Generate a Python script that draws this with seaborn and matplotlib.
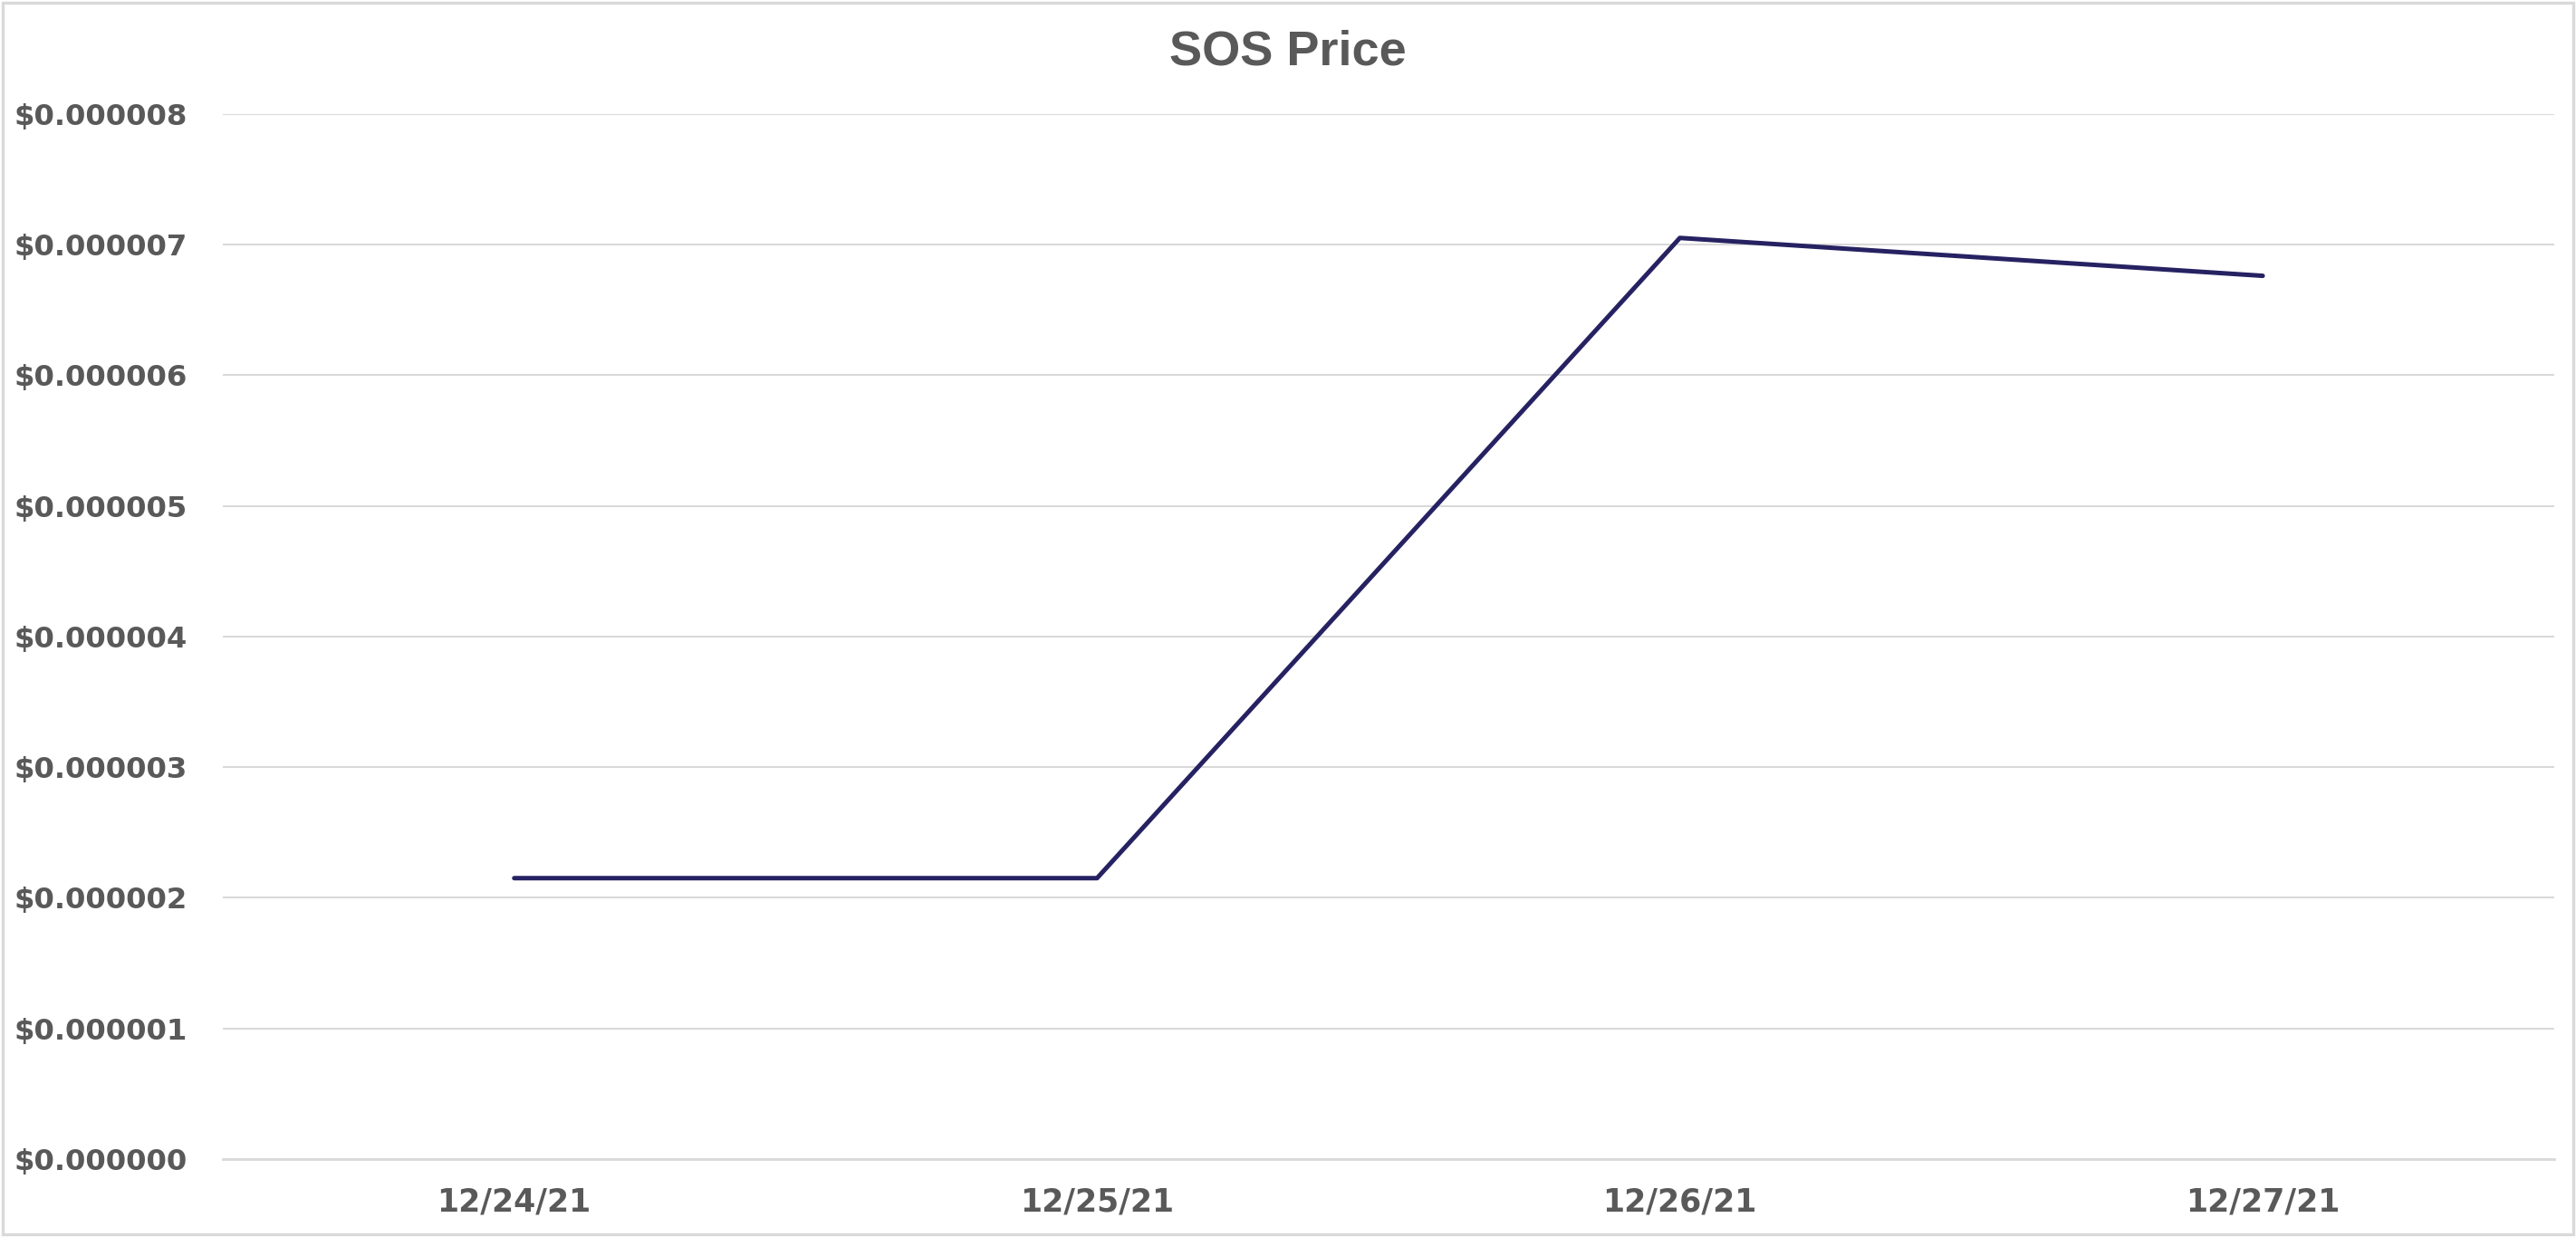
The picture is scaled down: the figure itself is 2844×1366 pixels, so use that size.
import pandas as pd
import matplotlib.pyplot as plt
import matplotlib.ticker as mticker
from matplotlib.patches import Rectangle
import seaborn as sns

# data
dates = ["12/24/21", "12/25/21", "12/26/21", "12/27/21"]
prices = [2.15e-6, 2.15e-6, 7.05e-6, 6.76e-6]
y_ticks = [0, 1e-6, 2e-6, 3e-6, 4e-6, 5e-6, 6e-6, 7e-6, 8e-6]

sns.set_style("white")
plt.rcParams['font.family'] = ['DejaVu Sans']

TEXT = "#595959"
GRID = "#d9d9d9"
LINE = "#262262"

df = pd.DataFrame({"date": dates, "price": prices})

fig = plt.figure(figsize=(14.22, 6.83), dpi=200)
ax = fig.add_axes([0.0865, 0.063, 0.905, 0.845])

sns.lineplot(data=df, x="date", y="price", ax=ax, color=LINE, linewidth=1.8,
             sort=False, solid_capstyle="round")

ax.set_xlim(-0.5, len(dates) - 0.5)
ax.set_ylim(0, 8e-6)
ax.set_yticks(y_ticks)
ax.yaxis.set_major_formatter(mticker.FuncFormatter(lambda v, p: f"${v:.6f}"))
ax.grid(axis="y", color=GRID, linewidth=0.75)
ax.set_axisbelow(True)

for s in ["top", "right", "left"]:
    ax.spines[s].set_visible(False)
ax.spines["bottom"].set_color(GRID)
ax.spines["bottom"].set_linewidth(1.0)

# category boundary ticks like excel
ax.set_xticks([i - 0.5 for i in range(len(dates) + 1)], minor=True)
ax.tick_params(axis="x", which="minor", length=4.3, width=0.75, color=GRID, direction="out")
ax.tick_params(axis="x", which="major", length=0, pad=11, labelsize=12.5, labelcolor=TEXT)
ax.tick_params(axis="y", length=0, pad=14, labelsize=11.6, labelcolor=TEXT)
for lbl in ax.get_xticklabels() + ax.get_yticklabels():
    lbl.set_fontweight("bold")

ax.set_xlabel("")
ax.set_ylabel("")

fig.text(0.5, 0.958, "SOS Price", ha="center", va="center", fontsize=19.5,
         fontweight="bold", color=TEXT, family="Liberation Sans")

# light border around the chart
fig.patches.append(Rectangle((0.001, 0.002), 0.998, 0.996, transform=fig.transFigure,
                             fill=False, edgecolor=GRID, linewidth=1.2))

fig.savefig("out.png", dpi=200)
plt.close()
